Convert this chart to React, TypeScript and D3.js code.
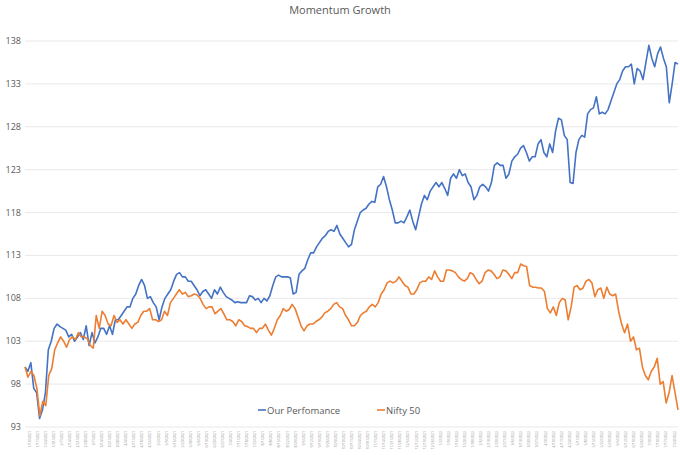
import React from "react";
import * as d3 from "d3";

const title = "Momentum Growth";
const yTicks = [93, 98, 103, 108, 113, 118, 123, 128, 133, 138];
const seriesNames = ["Our Perfomance", "Nifty 50"];
const ourPerf = [100,99.5,100.5,97.5,97,94,95,97,102,103,104.5,105,104.7,104.5,104.3,103.5,103.8,103,103.5,104,103.2,104.8,102.5,104,102.8,103.5,104.5,104.5,103.8,104.8,103.8,105.5,105.5,106,106.5,107,107,108,108.5,109.5,110.2,109.5,108,108.2,107.5,107,105.5,107,108,108.5,109,110,110.8,111,110.5,110.5,110,110,109.5,109,108.3,108.8,109,108.5,108,109,108.5,109.3,108.7,108.2,108,107.8,107.5,107.6,107.5,107.5,107.5,108.3,108.2,107.8,108,107.5,108,107.7,108.3,109.5,110.5,110.7,110.5,110.5,110.5,110.4,108.5,108.7,110.8,111.2,111.5,112.5,113.3,113.3,114,114.5,115,115.3,115.8,116,115.8,116.5,115.5,115,114.5,114,114.3,116,117,118,118.3,118.5,119,119.3,119.2,121,121.3,122.2,121,119.5,118.3,116.8,116.8,117,116.8,117.5,118.3,117,116,117.5,119,120,119.5,120.5,121,121.5,121,121.5,120.8,120,122,122.5,122,123,122.3,122.5,121.5,121,119.5,120,121,121.3,121,120.5,121.5,123.5,123.8,123.5,123.5,122,122.5,124,124.5,124.8,125.5,125.8,125,124,124.5,124.5,126,126.5,125,124.5,126,125,127.5,129,128.8,127,126.5,121.5,121.4,125,126.5,127,126.8,129.5,130,130.2,131.5,129.5,129.7,129.5,130,131,132,133,133.5,134.5,135,135,135.3,133,134.8,134.5,133.5,135.5,137.5,136,135,136.5,137.3,136,135,130.8,133,135.5,135.3];
const nifty50 = [100,98.8,99.5,99,97.5,94.3,96,95.5,99,99.8,102,102.8,103.5,103,102.3,103.2,103.5,103.2,104,103.5,103.5,103.3,102.5,102.2,106,104.5,106.5,106,105,104.8,106,105.2,105.5,105,105.5,105,104.5,105,105.2,106,106.5,106.5,106.8,105.5,105.5,105.3,105.5,106.5,106,107.5,108,108.5,109,108.5,108.7,108.2,108.3,108.5,108.4,108,107.3,106.8,107,107,106.2,106.5,106.8,106.2,105.5,105.5,105.3,104.8,105.5,105.3,104.8,104.7,104.5,104.5,104,104.5,104.5,105,104.3,103.7,104.5,105.5,106,106.8,106.5,106.7,107.3,106.8,105.8,104.8,104.2,104.8,105,105,105.3,105.5,105.8,106.3,106.5,106.8,107.3,107.5,107,106.8,106,105.5,104.8,104.8,105.2,106,106.3,106.5,107,107.3,107,107.5,108.5,109,109.8,110,109.8,110,110.5,110,109.5,109.3,108.5,108.5,109,109.8,110,110,110.5,110.2,111.2,110.5,110,110,111.3,111.3,111.2,111,110.5,110.2,110,110.3,111,110.8,110.2,109.7,110,111,111.3,111.2,110.8,110.3,110.5,111.3,111.2,110.8,110.3,111,111,112,111.8,111.7,109.5,109.3,109.3,109.2,109.2,108.8,106.8,106.3,107,106,107.5,108,107.8,105.5,107,109.3,109.5,109,109.2,110,110.2,109.8,108.2,109,109.2,108,109.3,108.5,108.3,108.5,106.5,105,104,105,103,103.5,102,102.2,100,99,98.5,99.5,100,101,98,98.3,95.8,97,99,97,95];
const dateLabels: string[] = d3.timeWeek.every(1)!.range(new Date(2021, 0, 4), new Date(2022, 6, 25)).map(d3.timeFormat("%-m/%-d/%Y"));

const W = 680, H = 455;
const L = 25, R = 678, T = 41, B = 427;

export default function App() {
  const y = d3.scaleLinear().domain([93, 138]).range([B, T]);
  const colors = ["#4472C4", "#ED7D31"];
  const data = [ourPerf, nifty50];
  const xl = d3.scalePoint<string>().domain(dateLabels).range([L + 4, R - 4]);
  return (
    <svg width={W} height={H} style={{ position: "absolute", left: 0, top: 0, fontFamily: "'Open Sans', 'Liberation Sans', sans-serif", background: "#fff" }}>
      <text x={W / 2} y={14} textAnchor="middle" fontSize={11} fill="#595959">{title}</text>
      {yTicks.map(t => (
        <g key={t}>
          <line x1={L} x2={R} y1={y(t)} y2={y(t)} stroke="#e3e3e3" strokeWidth={0.8} />
          <text x={L - 4} y={y(t) + 3} textAnchor="end" fontSize={9} fill="#595959">{t}</text>
        </g>
      ))}
      {dateLabels.map(d => (
        <text key={d} transform={`translate(${xl(d)! + 1.5},${B + 4}) rotate(-90)`} textAnchor="end" fontSize={3.5} fill="#8c8c8c">{d}</text>
      ))}
      {data.map((s, i) => {
        const x = d3.scaleLinear().domain([0, s.length - 1]).range([L, R]);
        const line = d3.line<number>().x((_, j) => x(j)).y(v => y(v));
        return <path key={i} d={line(s)!} fill="none" stroke={colors[i]} strokeWidth={1.6} strokeLinejoin="round" />;
      })}
      {seriesNames.map((n, i) => {
        const lx = i === 0 ? 258 : 377;
        return (
          <g key={n}>
            <line x1={lx} x2={lx + 8} y1={410} y2={410} stroke={colors[i]} strokeWidth={1.6} />
            <text x={lx + 9} y={413.5} fontSize={9.5} fill="#595959">{n}</text>
          </g>
        );
      })}
    </svg>
  );
}
